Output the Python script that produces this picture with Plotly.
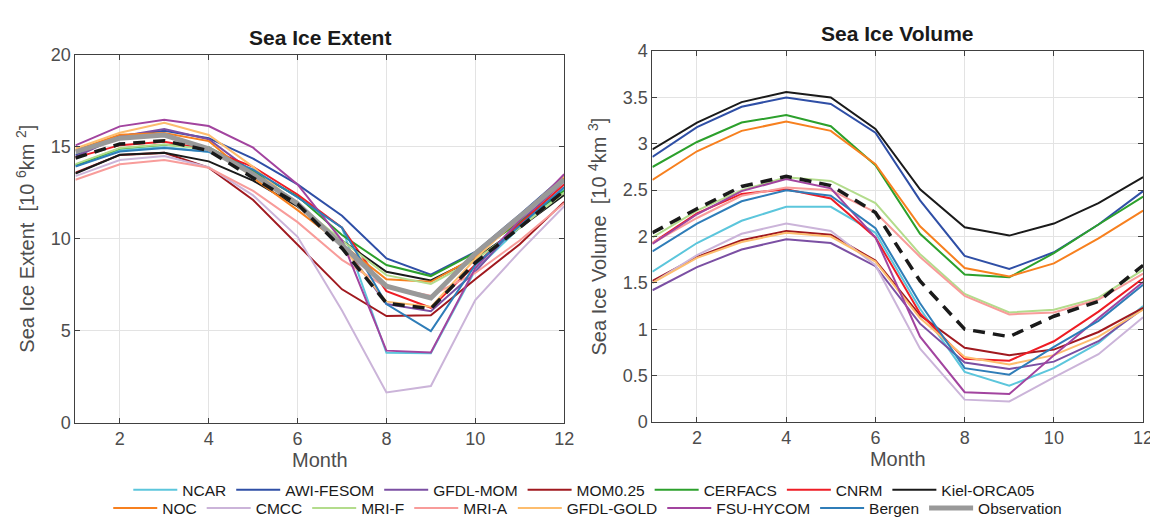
import plotly.graph_objects as go

months = list(range(1, 13))

models_row1 = ["NCAR", "AWI-FESOM", "GFDL-MOM", "MOM0.25", "CERFACS", "CNRM", "Kiel-ORCA05"]
models_row2 = ["NOC", "CMCC", "MRI-F", "MRI-A", "GFDL-GOLD", "FSU-HYCOM", "Bergen"]

colors = {
    "NCAR": "#5cc6dc", "AWI-FESOM": "#2f4fa6", "GFDL-MOM": "#7b4fa3", "MOM0.25": "#a0191f",
    "CERFACS": "#2ca02c", "CNRM": "#ee1d25", "Kiel-ORCA05": "#1a1a1a", "NOC": "#f7801f",
    "CMCC": "#cbb4d9", "MRI-F": "#b3dc8c", "MRI-A": "#f89c9a", "GFDL-GOLD": "#fdbd6e",
    "FSU-HYCOM": "#a2449f", "Bergen": "#2f7db8",
}

# Sea ice extent [10^6 km^2]
ext_NCAR = [13.95, 14.79, 14.97, 14.72, 13.75, 12.25, 10.6, 3.80, 3.78, 8.3, 10.6, 12.68]
ext_AWI = [14.55, 15.58, 15.86, 15.46, 14.35, 12.95, 11.25, 8.93, 8.05, 9.28, 11.3, 13.4]
ext_GFDLMOM = [14.45, 15.55, 15.95, 15.4, 13.6, 11.95, 9.75, 6.45, 6.06, 8.2, 10.9, 13.1]
ext_MOM025 = [13.58, 14.55, 14.66, 13.86, 12.1, 9.7, 7.25, 5.8, 5.84, 7.8, 9.7, 12.0]
ext_CERFACS = [14.0, 14.9, 15.1, 14.97, 13.65, 12.3, 10.2, 8.57, 7.97, 9.24, 10.9, 12.6]
ext_CNRM = [14.4, 15.08, 15.27, 14.85, 13.9, 12.4, 10.6, 7.15, 6.25, 8.58, 10.8, 12.94]
ext_Kiel = [13.54, 14.56, 14.67, 14.2, 13.15, 11.75, 9.9, 8.2, 7.73, 8.93, 10.6, 12.37]
ext_NOC = [14.8, 15.65, 15.74, 15.3, 13.3, 11.55, 9.7, 7.8, 7.66, 9.01, 11.1, 13.3]
ext_CMCC = [13.4, 14.27, 14.49, 13.88, 12.35, 10.1, 6.1, 1.65, 2.0, 6.67, 9.3, 11.76]
ext_MRIF = [14.05, 14.92, 15.12, 14.85, 13.5, 11.9, 9.9, 8.02, 7.54, 8.85, 10.6, 12.5]
ext_MRIA = [13.2, 14.04, 14.27, 13.85, 12.6, 10.9, 8.85, 7.36, 6.9, 8.14, 9.9, 11.93]
ext_GOLD = [14.9, 15.75, 16.3, 15.63, 13.9, 11.8, 9.6, 6.58, 6.3, 8.9, 11.2, 13.4]
ext_FSU = [15.07, 16.1, 16.46, 16.12, 14.94, 12.95, 9.9, 3.92, 3.82, 8.4, 11.0, 13.5]
ext_Bergen = [13.92, 14.73, 14.93, 14.72, 13.75, 12.25, 10.6, 6.45, 4.98, 8.58, 10.7, 12.8]
ext_Obs = [14.71, 15.46, 15.63, 14.88, 13.5, 11.9, 9.65, 7.42, 6.78, 9.19, 11.2, 13.2]
ext_Mean = [14.38, 15.14, 15.32, 14.78, 13.3, 11.88, 9.48, 6.5, 6.2, 8.7, 10.6, 12.6]

# Sea ice volume [10^4 km^3]
vol_NCAR = [1.62, 1.93, 2.17, 2.32, 2.32, 2.04, 1.22, 0.54, 0.39, 0.58, 0.85, 1.25]
vol_AWI = [2.86, 3.18, 3.40, 3.50, 3.43, 3.12, 2.39, 1.79, 1.65, 1.83, 2.13, 2.49]
vol_GFDLMOM = [1.42, 1.67, 1.86, 1.97, 1.93, 1.68, 1.06, 0.64, 0.57, 0.65, 0.87, 1.22]
vol_MOM025 = [1.52, 1.78, 1.96, 2.06, 2.02, 1.74, 1.15, 0.80, 0.72, 0.78, 0.97, 1.23]
vol_CERFACS = [2.75, 3.02, 3.23, 3.31, 3.19, 2.77, 2.03, 1.59, 1.56, 1.82, 2.13, 2.43]
vol_CNRM = [1.93, 2.25, 2.46, 2.51, 2.41, 1.99, 1.17, 0.68, 0.66, 0.87, 1.19, 1.55]
vol_Kiel = [2.94, 3.23, 3.45, 3.56, 3.50, 3.16, 2.51, 2.10, 2.01, 2.14, 2.36, 2.64]
vol_NOC = [2.61, 2.92, 3.14, 3.24, 3.14, 2.78, 2.11, 1.66, 1.57, 1.71, 1.98, 2.28]
vol_CMCC = [1.50, 1.80, 2.03, 2.14, 2.06, 1.69, 0.79, 0.24, 0.22, 0.48, 0.73, 1.13]
vol_MRIF = [1.99, 2.28, 2.50, 2.64, 2.60, 2.36, 1.81, 1.38, 1.18, 1.21, 1.34, 1.64]
vol_MRIA = [1.93, 2.20, 2.44, 2.53, 2.50, 2.26, 1.78, 1.36, 1.16, 1.18, 1.32, 1.60]
vol_GOLD = [1.50, 1.77, 1.94, 2.04, 2.00, 1.73, 1.12, 0.70, 0.62, 0.72, 0.92, 1.21]
vol_FSU = [1.92, 2.24, 2.49, 2.62, 2.52, 1.99, 0.92, 0.32, 0.30, 0.72, 1.12, 1.51]
vol_Bergen = [1.84, 2.14, 2.38, 2.50, 2.44, 2.09, 1.28, 0.58, 0.51, 0.81, 1.09, 1.48]
vol_Mean = [2.04, 2.30, 2.54, 2.65, 2.55, 2.26, 1.52, 1.00, 0.92, 1.14, 1.30, 1.69]

extent = {
    "NCAR": ext_NCAR, "AWI-FESOM": ext_AWI, "GFDL-MOM": ext_GFDLMOM, "MOM0.25": ext_MOM025,
    "CERFACS": ext_CERFACS, "CNRM": ext_CNRM, "Kiel-ORCA05": ext_Kiel, "NOC": ext_NOC,
    "CMCC": ext_CMCC, "MRI-F": ext_MRIF, "MRI-A": ext_MRIA, "GFDL-GOLD": ext_GOLD,
    "FSU-HYCOM": ext_FSU, "Bergen": ext_Bergen,
}
volume = {
    "NCAR": vol_NCAR, "AWI-FESOM": vol_AWI, "GFDL-MOM": vol_GFDLMOM, "MOM0.25": vol_MOM025,
    "CERFACS": vol_CERFACS, "CNRM": vol_CNRM, "Kiel-ORCA05": vol_Kiel, "NOC": vol_NOC,
    "CMCC": vol_CMCC, "MRI-F": vol_MRIF, "MRI-A": vol_MRIA, "GFDL-GOLD": vol_GOLD,
    "FSU-HYCOM": vol_FSU, "Bergen": vol_Bergen,
}

W, H = 1158, 521
FONT = "Liberation Sans, Arial, Helvetica, sans-serif"
GREY = "#4d4d4d"

fig = go.Figure()

all_models = models_row1 + models_row2
for name in all_models:
    leg = "legend" if name in models_row1 else "legend2"
    fig.add_trace(go.Scatter(x=months, y=extent[name], mode="lines", name=name,
                             line=dict(color=colors[name], width=2), legend=leg,
                             xaxis="x", yaxis="y"))
for name in all_models:
    fig.add_trace(go.Scatter(x=months, y=volume[name], mode="lines", name=name,
                             line=dict(color=colors[name], width=2), showlegend=False,
                             xaxis="x2", yaxis="y2"))

fig.add_trace(go.Scatter(x=months, y=ext_Obs, mode="lines", name="Observation",
                         line=dict(color="#999999", width=5), legend="legend2",
                         xaxis="x", yaxis="y"))
fig.add_trace(go.Scatter(x=months, y=ext_Mean, mode="lines", name="Model mean",
                         line=dict(color="#1a1a1a", width=3.5, dash="12px,8px"),
                         showlegend=False, xaxis="x", yaxis="y"))
fig.add_trace(go.Scatter(x=months, y=vol_Mean, mode="lines", name="Model mean",
                         line=dict(color="#1a1a1a", width=3.5, dash="12px,8px"),
                         showlegend=False, xaxis="x2", yaxis="y2"))

axis_common = dict(showline=True, linecolor="#404040", linewidth=1, mirror="ticks",
                   ticks="inside", ticklen=5, tickcolor="#404040",
                   showgrid=True, gridcolor="#e3e3e3", gridwidth=1, zeroline=False,
                   tickfont=dict(family=FONT, size=18, color=GREY))
title_font = dict(family=FONT, size=20, color=GREY)
leg_font = dict(family=FONT, size=15.5, color="#1a1a1a")

fig.update_layout(
    width=W, height=H,
    margin=dict(l=0, r=0, t=0, b=0),
    paper_bgcolor="white", plot_bgcolor="white",
    xaxis=dict(domain=[68 / W, 561 / W], range=[1, 12], tickvals=[2, 4, 6, 8, 10, 12],
               title=dict(text="Month", font=title_font, standoff=4),
               anchor="y", **axis_common),
    yaxis=dict(domain=[1 - 421 / H, 1 - 38 / H], range=[0, 20], tickvals=[0, 5, 10, 15, 20],
               title=dict(text="Sea Ice Extent  [10 <sup>6</sup>km <sup>2</sup>]",
                          font=title_font, standoff=10),
               anchor="x", **axis_common),
    xaxis2=dict(domain=[650 / W, 1145 / W], range=[1, 12], tickvals=[2, 4, 6, 8, 10, 12],
                title=dict(text="Month", font=title_font, standoff=4),
                anchor="y2", **axis_common),
    yaxis2=dict(domain=[1 - 420 / H, 1 - 34.5 / H], range=[0, 4],
                tickvals=[0, 0.5, 1, 1.5, 2, 2.5, 3, 3.5, 4],
                title=dict(text="Sea Ice Volume  [10 <sup>4</sup>km <sup>3</sup>]",
                           font=title_font, standoff=10),
                anchor="x2", **axis_common),
    legend=dict(orientation="h", x=0.502, xanchor="center", y=1 - 491 / H, yanchor="middle",
                font=leg_font, bgcolor="rgba(0,0,0,0)", itemwidth=44, tracegroupgap=0),
    legend2=dict(orientation="h", x=0.505, xanchor="center", y=1 - 510 / H, yanchor="middle",
                 font=leg_font, bgcolor="rgba(0,0,0,0)", itemwidth=44, tracegroupgap=0),
    annotations=[
        dict(text="<b>Sea Ice Extent</b>", x=(68 + 561) / 2 / W, y=1 - 20 / H, xref="paper",
             yref="paper", showarrow=False, xanchor="center", yanchor="middle",
             font=dict(family=FONT, size=21, color="#1a1a1a")),
        dict(text="<b>Sea Ice Volume</b>", x=(650 + 1145) / 2 / W, y=1 - 16 / H, xref="paper",
             yref="paper", showarrow=False, xanchor="center", yanchor="middle",
             font=dict(family=FONT, size=21, color="#1a1a1a")),
    ],
)

fig.write_html("out.html")
